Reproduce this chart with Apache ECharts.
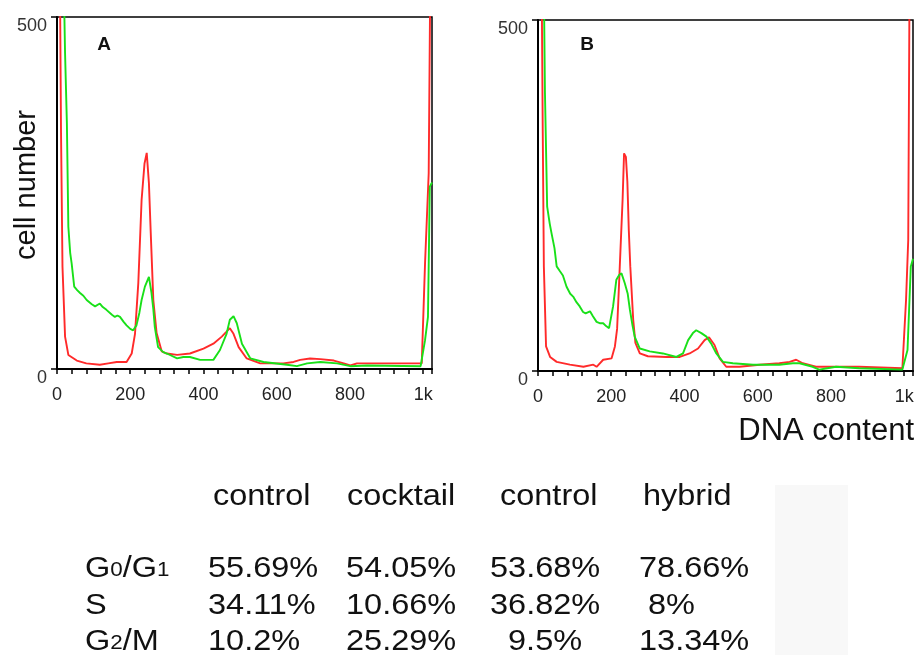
<!DOCTYPE html>
<html>
<head>
<meta charset="utf-8">
<script src="https://cdn.jsdelivr.net/npm/echarts@6/dist/echarts.min.js"></script>
<style>
html,body{margin:0;padding:0;background:#fff;}
#chart{width:917px;height:655px;}
</style>
</head>
<body>
<div id="chart"></div>
<script>
// ---- data (DNA channel, cell count) ----
const panelA_control = [[0,3000],[6,700],[11,335],[15,145],[22,46],[31,20],[54,12],[80,8],[117,6],[140,8],[163,10],[190,10],[204,22],[213,50],[222,122],[231,240],[239,292],[245,307],[251,264],[256,193],[263,98],[272,51],[286,25],[300,22],[328,20],[363,22],[400,29],[427,36],[450,46],[463,53],[472,58],[482,50],[496,31],[518,15],[555,8],[618,8],[646,10],[664,13],[691,15],[719,14],[756,12],[783,8],[801,5],[819,8],[900,8],[996,8],[1005,150],[1015,278],[1020,600],[1024,900]];
const panelA_cocktail = [[0,3000],[15,650],[22,449],[27,349],[31,202],[36,165],[40,150],[47,117],[55,112],[63,108],[72,104],[81,98],[95,92],[104,89],[117,93],[125,88],[135,84],[150,77],[158,74],[165,76],[172,74],[182,67],[190,62],[200,57],[208,55],[217,62],[225,80],[231,98],[240,117],[251,131],[258,108],[263,85],[267,60],[276,31],[290,24],[300,22],[328,15],[345,17],[363,17],[391,13],[427,13],[445,27],[463,50],[472,70],[482,75],[491,65],[505,36],[528,15],[564,10],[628,6],[655,4],[683,8],[719,10],[765,8],[801,4],[847,5],[993,4],[1005,41],[1013,74],[1018,259],[1024,265]];
const panelB_control = [[0,3000],[8,700],[13,339],[16,149],[22,35],[33,20],[51,13],[87,9],[124,6],[151,9],[160,6],[178,16],[201,18],[210,35],[216,60],[221,120],[225,170],[231,244],[235,310],[240,305],[244,270],[248,200],[252,149],[260,73],[266,40],[278,25],[300,21],[351,20],[387,20],[414,25],[437,32],[455,44],[467,48],[482,37],[496,18],[514,6],[550,6],[605,9],[659,11],[687,13],[705,16],[723,11],[759,6],[787,6],[877,6],[995,4],[1005,101],[1011,187],[1015,600],[1024,900]];
const panelB_hybrid = [[0,3000],[14,650],[19,396],[25,234],[32,210],[37,196],[45,175],[51,149],[60,142],[68,136],[78,120],[88,110],[96,106],[105,98],[114,92],[123,84],[130,82],[142,85],[150,78],[160,70],[170,68],[178,68],[186,64],[194,61],[205,92],[214,130],[222,137],[228,139],[237,125],[245,110],[251,87],[258,65],[264,49],[278,32],[305,28],[341,25],[378,20],[396,25],[410,44],[423,54],[432,58],[446,54],[460,49],[473,39],[487,25],[505,13],[532,11],[587,9],[659,9],[696,11],[714,11],[750,6],[768,2],[790,4],[814,6],[877,4],[995,2],[1009,30],[1018,149],[1024,160]];

const xTickValues = [0,200,400,600,800,1000];
const xTickLabels = ['0','200','400','600','800','1k'];
const yTickValues = [0,500];
const yTickLabels = ['0','500'];

// ---- table ----
const tableHeaders = ['control','cocktail','control','hybrid'];
const rowLabels = ['G0/G1','S','G2/M'];
const colControlA = ['55.69%','34.11%','10.2%'];
const colCocktail = ['54.05%','10.66%','25.29%'];
const colControlB = ['53.68%','36.82%','  9.5%'];
const colHybrid   = ['78.66%',' 8%','13.34%'];

// ---- layout ----
const FONT = '"Liberation Sans", Arial, Helvetica, sans-serif';
const RED = '#ff2a2a', GREEN = '#19e019';
const grids = [
  {left:57, top:17, width:375, height:352},
  {left:538, top:20, width:375, height:351}
];
const headerX = [213, 347, 500, 643];
const colX = [208, 346, 490, 639];
const rowY = [569, 605.5, 642];
const headerY = 497;
const SX = 1.12;

function xAxis(i){
  return {
    gridIndex:i, type:'value', min:0, max:1024, interval:40,
    axisLine:{show:true, onZero:false, lineStyle:{color:'#000', width:2}},
    axisTick:{show:true, length:5, lineStyle:{color:'#000', width:1.5}},
    axisLabel:{
      fontFamily:FONT, fontSize:18, color:'#222', margin:17,
      formatter:function(v){ const k = xTickValues.indexOf(v); return k>=0 ? xTickLabels[k] : ''; }
    },
    splitLine:{show:false}
  };
}
function yAxis(i){
  return {
    gridIndex:i, type:'value', min:0, max:500, interval:500,
    axisLine:{show:true, onZero:false, lineStyle:{color:'#000', width:2}},
    axisTick:{show:true, length:6, lineStyle:{color:'#000', width:1.5}},
    axisLabel:{
      fontFamily:FONT, fontSize:18, color:'#333', margin:10, verticalAlign:'top', lineHeight:18,
      formatter:function(v){ const k = yTickValues.indexOf(v); return k>=0 ? yTickLabels[k] : ''; }
    },
    splitLine:{show:false}
  };
}
function line(data, color, idx){
  return {
    type:'line', data:data, xAxisIndex:idx, yAxisIndex:idx,
    showSymbol:false, symbol:'none', clip:true, animation:false,
    lineStyle:{color:color, width:1.9}, z:3
  };
}

const richRow = {
  a:{fontFamily:FONT, fontSize:29, color:'#111', verticalAlign:'bottom'},
  s:{fontFamily:FONT, fontSize:20, color:'#111', verticalAlign:'bottom', padding:[0,0,3,0]}
};
function txt(x, y, text, extra){
  return Object.assign({
    type:'text', x:x, y:y, scaleX:SX, silent:true,
    style:{text:text, fontFamily:FONT, fontSize:29, fill:'#111', align:'left', verticalAlign:'middle'}
  }, extra||{});
}

const graphics = [];
graphics.push({type:'rect', shape:{x:775, y:485, width:73, height:170}, style:{fill:'#f8f8f8'}, silent:true, z:-1});
graphics.push({type:'text', x:104, y:45, style:{text:'A', fontFamily:FONT, fontSize:19, fontWeight:'bold', fill:'#111', align:'center', verticalAlign:'middle'}});
graphics.push({type:'text', x:587, y:45, style:{text:'B', fontFamily:FONT, fontSize:19, fontWeight:'bold', fill:'#111', align:'center', verticalAlign:'middle'}});
graphics.push({type:'text', x:27, y:185, rotation:Math.PI/2, style:{text:'cell number', fontFamily:FONT, fontSize:29, fill:'#111', align:'center', verticalAlign:'middle'}});
graphics.push({type:'text', x:914, y:431, style:{text:'DNA content', fontFamily:FONT, fontSize:31, fill:'#111', align:'right', verticalAlign:'middle'}});
tableHeaders.forEach(function(h,i){ graphics.push(txt(headerX[i], headerY, h)); });
rowLabels.forEach(function(r,i){
  graphics.push({
    type:'text', x:85, y:rowY[i], scaleX:SX, silent:true,
    style:{text:r.replace(/(\d)/g,'{s|$1}').replace(/([^}|\d]+)(?=\{|$)/g,'{a|$1}'), rich:richRow, fontFamily:FONT, fontSize:29, fill:'#111', align:'left', verticalAlign:'middle'}
  });
});
[colControlA, colCocktail, colControlB, colHybrid].forEach(function(col,c){
  col.forEach(function(v,r){ graphics.push(txt(colX[c], rowY[r], v)); });
});

const chart = echarts.init(document.getElementById('chart'), null, {renderer:'canvas'});
chart.setOption({
  backgroundColor:'#fff',
  animation:false,
  grid: grids.map(function(g){ return Object.assign({show:true, borderColor:'#000', borderWidth:1.5, backgroundColor:'transparent', containLabel:false}, g); }),
  xAxis:[xAxis(0), xAxis(1)],
  yAxis:[yAxis(0), yAxis(1)],
  series:[
    line(panelA_control, RED, 0),
    line(panelA_cocktail, GREEN, 0),
    line(panelB_control, RED, 1),
    line(panelB_hybrid, GREEN, 1)
  ],
  graphic: graphics
});
</script>
</body>
</html>
